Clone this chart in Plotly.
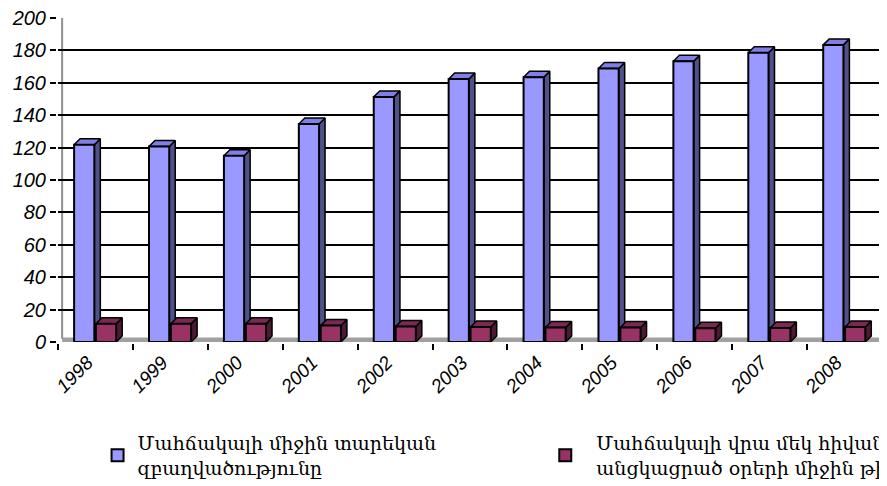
import plotly.graph_objects as go

# Years and the two series
years = ['1998', '1999', '2000', '2001', '2002', '2003', '2004', '2005', '2006', '2007', '2008']
bed_occupancy = [121.8, 120.7, 115.0, 134.6, 151.3, 162.4, 163.4, 168.8, 173.3, 178.5, 183.4]
avg_stay_days = [11.3, 11.3, 11.3, 10.2, 9.6, 9.3, 8.9, 8.9, 8.5, 8.6, 9.3]

name_occupancy = 'Մահճակալի միջին տարեկան<br>զբաղվածությունը'
name_stay = 'Մահճակալի վրա մեկ հիվանդի<br>անցկացրած օրերի միջին թիվը'

idx = list(range(len(years)))

# pseudo-3D look
bar_w = 0.27
depth_x = 0.08      # in category units
depth_y = 3.7       # in value units


def faces(values, offset):
    """side and top faces of the extruded columns, built from the values"""
    side_x, side_y, top_x, top_y = [], [], [], []
    for i, v in zip(idx, values):
        xl = i + offset
        xr = xl + bar_w
        side_x += [xr, xr + depth_x, xr + depth_x, xr, xr, None]
        side_y += [0, depth_y, v + depth_y, v, 0, None]
        top_x += [xl, xl + depth_x, xr + depth_x, xr, xl, None]
        top_y += [v, v + depth_y, v + depth_y, v, v, None]
    return side_x, side_y, top_x, top_y


series = [
    (name_occupancy, bed_occupancy, -0.285, '#9999ff', '#50508a', '#7f7fe6', 0),
    (name_stay, avg_stay_days, 0.007, '#993366', '#4d1933', '#7a2952', 10),
]

fig = go.Figure()
legends = ['legend', 'legend2']
for k, (name, vals, off, c_front, c_side, c_top, z) in enumerate(series):
    sx, sy, tx, ty = faces(vals, off)
    fig.add_trace(go.Scatter(x=sx, y=sy, mode='lines', fill='toself', fillcolor=c_side,
                             line=dict(color='black', width=1.5), showlegend=False,
                             hoverinfo='skip', zorder=z))
    fig.add_trace(go.Scatter(x=tx, y=ty, mode='lines', fill='toself', fillcolor=c_top,
                             line=dict(color='black', width=1.5), showlegend=False,
                             hoverinfo='skip', zorder=z + 1))
    fig.add_trace(go.Bar(x=idx, y=vals, width=bar_w, offset=off, name=name,
                         marker=dict(color=c_front, line=dict(color='black', width=2)),
                         legend=legends[k], zorder=z + 2))

# page body has an 8px margin, so the figure is 8px smaller and margins compensate
fig.update_layout(
    width=879, height=478,
    barmode='overlay',
    plot_bgcolor='white', paper_bgcolor='white',
    margin=dict(l=50, r=5, t=10, b=144, autoexpand=False),
    font=dict(family='Liberation Sans, Arial, sans-serif', size=20, color='black'),
    legend=dict(x=0.048, y=-0.253, xanchor='left', yanchor='top',
                font=dict(family='DejaVu Serif, serif', size=19, color='black'),
                bgcolor='rgba(0,0,0,0)'),
    legend2=dict(x=0.578, y=-0.253, xanchor='left', yanchor='top', itemwidth=52,
                 font=dict(family='DejaVu Serif, serif', size=19, color='black'),
                 bgcolor='rgba(0,0,0,0)'),
    shapes=[
        # floor of the 3D box
        dict(type='rect', xref='paper', yref='y', x0=0.005, x1=1, y0=0, y1=2.8,
             fillcolor='#a0a0a0', line=dict(width=0), layer='below'),
        # wall edges
        dict(type='line', xref='paper', yref='y', x0=0.005, x1=1, y0=201.3, y1=201.3,
             line=dict(color='#808080', width=3)),
        dict(type='line', xref='paper', yref='y', x0=0.005, x1=0.005, y0=2, y1=201.3,
             line=dict(color='#909090', width=2), layer='below'),
    ],
)

fig.update_xaxes(
    range=[-0.5, 10.5], tickmode='array', tickvals=idx, ticktext=years,
    ticks='', tickangle=-45, showgrid=False, zeroline=False,
    tickfont=dict(size=19, style='italic'),
    ticklabelshift=-8,
    showline=True, linecolor='black', linewidth=2,
    minor=dict(tickmode='linear', tick0=-0.5, dtick=1, ticks='outside',
               ticklen=6, tickwidth=2, tickcolor='black', showgrid=False),
)
fig.update_yaxes(
    range=[0, 200], tickmode='linear', tick0=0, dtick=20,
    ticks='outside', ticklen=6, tickwidth=2, tickcolor='black',
    tickfont=dict(size=20, style='italic'), ticklabeloverflow='allow',
    showgrid=True, gridcolor='black', gridwidth=2, layer='below traces',
    zeroline=False,
    showline=True, linecolor='black', linewidth=2,
)

fig.write_html('out.html')
